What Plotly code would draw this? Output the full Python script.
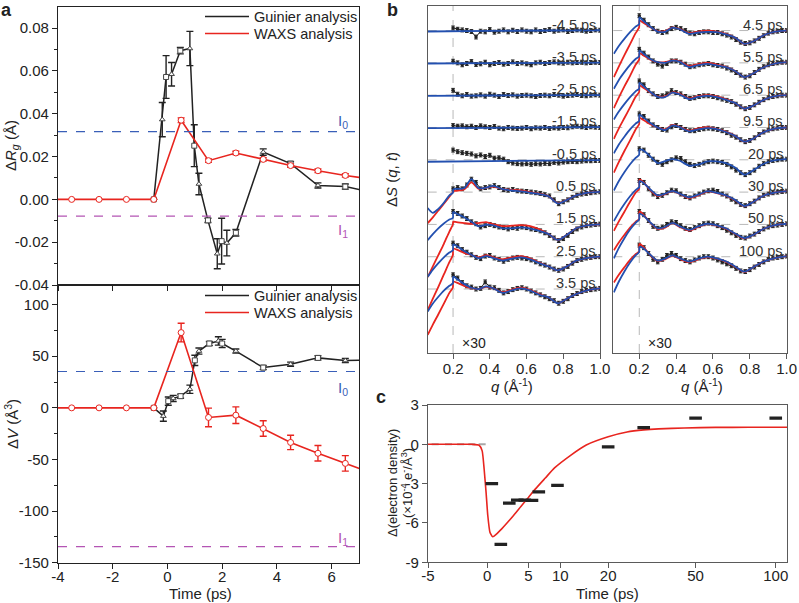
import numpy as np
import plotly.graph_objects as go

W, H = 799, 603
FONT = 'Liberation Sans, Arial, sans-serif'
INK = '#222222'
FRAME_B = '#5a5a5a'
RED = '#e8251f'
BLUE = '#2350b0'
GRID_GRAY = '#b8b8b8'

# ------------------------------------------------------------------
# Panel a : Guinier vs WAXS analysis
# ------------------------------------------------------------------
waxs_t = [-4.5, -3.5, -2.5, -1.5, -0.5, 0.5, 1.5, 2.5, 3.5, 4.5, 5.5, 6.5, 9.5]
waxs_rg = [0, 0, 0, 0, 0, 0.037, 0.0181, 0.0217, 0.0187, 0.0158, 0.0134, 0.0112, 0.0058]
waxs_rg_err = [0, 0, 0, 0, 0, 0.0011, 0.0008, 0.0008, 0.0008, 0.0008, 0.0008, 0.0008, 0.0008]
waxs_dv = [0, 0, 0, 0, 0, 72.9, -9.3, -7.1, -20.0, -33.5, -44.0, -53.8, -83.0]
waxs_dv_err = [0, 0, 0, 0, 0, 9.0, 9.0, 8.0, 7.5, 7.0, 7.5, 7.5, 7.5]

guin_rg_t = [-0.5, -0.19, -0.05, 0.15, 0.47, 0.82, 0.98, 1.15, 1.48, 1.82, 1.98, 2.17, 2.5, 3.5, 4.5, 5.5, 6.5, 9.5]
guin_rg = [0, 0.0373, 0.0572, 0.0585, 0.0695, 0.0705, 0.0251, 0.0072, -0.0098, -0.0254, -0.0195,
           -0.0204, -0.0156, 0.0221, 0.0167, 0.0065, 0.006, -0.002]
guin_rg_err = [0, 0.008, 0.010, 0.0055, 0.0015, 0.008, 0.0098, 0.005, 0.001, 0.007, 0.0107,
               0.006, 0.0015, 0.0015, 0.001, 0.0012, 0.0012, 0.001]

guin_dv_t = [-0.5, -0.15, 0.03, 0.21, 0.48, 0.82, 1.0, 1.15, 1.53, 1.86, 2.0, 2.5, 3.5, 4.5, 5.5, 6.5, 9.5]
guin_dv = [0, -8.0, 6.5, 9.1, 11.3, 18.0, 46.0, 55.0, 62.3, 64.8, 62.3, 55.0, 39.0, 42.3, 48.4, 45.8, 47.0]
guin_dv_err = [0, 5, 4, 3, 2, 4, 5, 3, 2, 4, 4, 2, 2, 2, 2, 2, 2]

level_rg = {'I0': 0.0317, 'I1': -0.0078}
level_dv = {'I0': 35.2, 'I1': -134.4}

rg_ticks = [-0.04, -0.02, 0.00, 0.02, 0.04, 0.06, 0.08]
rg_ticktext = ['-0.04', '-0.02', '0.00', '0.02', '0.04', '0.06', '0.08']
dv_ticks = [-150, -100, -50, 0, 50, 100]
dv_ticktext = ['-150', '-100', '-50', '0', '50', '100']
time_ticks = [-4, -2, 0, 2, 4, 6]
time_ticktext = ['-4', '-2', '0', '2', '4', '6']

# ------------------------------------------------------------------
# Panel b : difference curves (offset stacks)
# ------------------------------------------------------------------
QN = [0.062, 0.4, 1.0]
QB = [0.062, 0.09, 0.12, 0.15, 0.18, 0.199, 0.201, 0.22, 0.26, 0.30, 0.34, 0.38, 0.42, 0.47,
      0.52, 0.57, 0.62, 0.67, 0.72, 0.77, 0.82, 0.87, 0.93, 1.0]
QD = [0.200, 0.225, 0.250, 0.275, 0.300, 0.325, 0.350, 0.375, 0.400, 0.425, 0.450, 0.475, 0.500,
      0.525, 0.550, 0.575, 0.600, 0.625, 0.650, 0.675, 0.700, 0.725, 0.750, 0.775, 0.800, 0.825,
      0.850, 0.875, 0.900, 0.925, 0.950, 0.975, 1.000]

# blue fits
bm45 = [-0.03, -0.01, 0.01]
bm35 = [-0.02, -0.01, 0.01]
bm25 = [-0.02, -0.01, 0.0]
bm15 = [-0.02, -0.01, 0.01]
bm05 = [-0.06, -0.04, -0.01]
b05 = [-0.49, -0.64, -0.52, -0.33, -0.10, -0.02, 0.08, 0.10, 0.12, 0.40, 0.12, 0.14, 0.19, 0.09, 0.05, 0.02, -0.02, -0.06, -0.13, -0.35, -0.24, -0.10, -0.02, 0.01]
b15 = [-0.49, -0.30, -0.12, 0.03, 0.15, 0.20, 0.38, 0.33, 0.22, 0.08, -0.06, -0.01, -0.03, -0.12, -0.12, -0.09, -0.13, -0.20, -0.30, -0.48, -0.32, -0.12, -0.03, 0.0]
b25 = [-0.62, -0.40, -0.20, -0.02, 0.13, 0.20, 0.38, 0.33, 0.18, 0.06, -0.05, 0.02, -0.04, -0.12, -0.06, -0.02, -0.08, -0.20, -0.30, -0.42, -0.30, -0.12, -0.04, 0.0]
b35 = [-0.70, -0.45, -0.24, -0.05, 0.10, 0.18, 0.38, 0.32, 0.16, 0.04, 0.0, 0.08, 0.02, -0.12, -0.04, 0.02, -0.05, -0.18, -0.26, -0.44, -0.30, -0.16, -0.04, 0.02]
b45 = [-0.72, -0.47, -0.25, -0.05, 0.12, 0.20, 0.41, 0.31, 0.12, -0.03, -0.04, 0.09, 0.04, -0.10, -0.06, -0.04, -0.05, -0.12, -0.22, -0.41, -0.33, -0.16, -0.04, 0.0]
b55 = [-0.80, -0.52, -0.28, -0.06, 0.12, 0.20, 0.38, 0.30, 0.12, 0.02, 0.0, 0.07, 0.03, -0.13, -0.07, -0.03, -0.08, -0.13, -0.25, -0.44, -0.32, -0.15, -0.03, 0.02]
b65 = [-0.75, -0.50, -0.27, -0.06, 0.12, 0.20, 0.38, 0.30, 0.10, -0.05, -0.06, 0.08, 0.02, -0.12, -0.05, -0.02, -0.06, -0.14, -0.24, -0.42, -0.32, -0.16, -0.04, 0.0]
b95 = [-0.80, -0.52, -0.28, -0.06, 0.12, 0.20, 0.40, 0.32, 0.14, 0.0, -0.08, 0.06, 0.01, -0.12, -0.06, -0.02, -0.05, -0.14, -0.26, -0.44, -0.34, -0.16, -0.04, 0.0]
b20 = [-0.95, -0.65, -0.38, -0.14, 0.06, 0.15, 0.31, 0.30, 0.10, -0.10, -0.04, 0.02, -0.03, -0.18, -0.15, -0.05, -0.05, -0.10, -0.24, -0.46, -0.32, -0.14, -0.02, 0.02]
b30 = [-0.90, -0.62, -0.36, -0.13, 0.06, 0.15, 0.34, 0.30, 0.08, -0.10, -0.05, 0.04, -0.05, -0.16, -0.08, 0.03, -0.02, -0.10, -0.24, -0.43, -0.30, -0.12, -0.02, 0.03]
b50 = [-1.05, -0.72, -0.42, -0.16, 0.05, 0.15, 0.32, 0.28, 0.06, -0.12, -0.08, 0.05, -0.06, -0.17, -0.06, 0.02, -0.03, -0.12, -0.28, -0.42, -0.32, -0.15, -0.03, 0.02]
b100 = [-1.10, -0.76, -0.45, -0.18, 0.04, 0.14, 0.30, 0.27, 0.06, -0.12, -0.06, 0.04, -0.05, -0.15, -0.06, 0.0, -0.05, -0.14, -0.30, -0.46, -0.32, -0.16, -0.05, 0.02]

# red fits
r05 = [-0.96, -0.78, -0.57, -0.36, -0.14, 0.0, 0.03, 0.04, 0.08, 0.30, 0.10, 0.14, 0.17, 0.09, 0.07, 0.05, 0.0, -0.05, -0.13, -0.34, -0.24, -0.10, -0.02, 0.01]
r15 = [-1.63, -1.30, -0.95, -0.60, -0.22, 0.0, 0.08, 0.07, 0.04, 0.02, 0.04, 0.07, 0.0, -0.05, -0.04, -0.02, -0.05, -0.15, -0.30, -0.48, -0.32, -0.12, -0.03, 0.0]
r25 = [-1.65, -1.30, -0.93, -0.55, -0.17, 0.05, 0.25, 0.22, 0.12, 0.05, -0.02, 0.05, -0.02, -0.08, -0.02, 0.02, -0.05, -0.18, -0.30, -0.42, -0.30, -0.12, -0.04, 0.0]
r35 = [-1.42, -1.10, -0.78, -0.45, -0.12, 0.05, 0.23, 0.20, 0.10, 0.03, 0.0, 0.07, 0.02, -0.10, -0.02, 0.04, -0.03, -0.16, -0.26, -0.44, -0.30, -0.16, -0.04, 0.02]
r45 = [-1.44, -1.10, -0.75, -0.42, -0.08, 0.10, 0.31, 0.25, 0.10, -0.02, -0.02, 0.10, 0.05, -0.08, -0.03, 0.0, -0.03, -0.10, -0.22, -0.41, -0.33, -0.16, -0.04, 0.0]
r55 = [-1.40, -1.06, -0.72, -0.40, -0.06, 0.10, 0.30, 0.24, 0.10, 0.02, 0.02, 0.08, 0.05, -0.10, -0.04, 0.0, -0.05, -0.12, -0.25, -0.44, -0.32, -0.15, -0.03, 0.02]
r65 = [-1.35, -1.02, -0.70, -0.38, -0.05, 0.10, 0.30, 0.24, 0.08, -0.04, -0.04, 0.09, 0.04, -0.10, -0.03, 0.0, -0.04, -0.12, -0.24, -0.42, -0.32, -0.16, -0.04, 0.0]
r95 = [-1.40, -1.06, -0.72, -0.40, -0.06, 0.10, 0.30, 0.24, 0.10, 0.0, -0.06, 0.08, 0.02, -0.10, -0.03, 0.01, -0.04, -0.13, -0.26, -0.44, -0.34, -0.16, -0.04, 0.0]
r30 = [-1.20, -0.90, -0.60, -0.30, -0.02, 0.10, 0.39, 0.32, 0.06, -0.12, -0.06, 0.03, -0.06, -0.18, -0.10, 0.02, -0.03, -0.11, -0.25, -0.44, -0.30, -0.12, -0.02, 0.03]
r50 = [-0.80, -0.55, -0.32, -0.10, 0.08, 0.16, 0.40, 0.32, 0.05, -0.14, -0.10, 0.04, -0.08, -0.19, -0.08, 0.01, -0.04, -0.13, -0.29, -0.43, -0.32, -0.15, -0.03, 0.02]
r100 = [-0.80, -0.55, -0.32, -0.10, 0.08, 0.16, 0.40, 0.32, 0.05, -0.13, -0.08, 0.03, -0.07, -0.17, -0.08, -0.01, -0.06, -0.15, -0.31, -0.47, -0.32, -0.16, -0.05, 0.02]

# measured difference data (q >= 0.2)
dm45 = [0.08, 0.04, 0.02, 0.0, -0.03, -0.20, -0.02, -0.04, 0.03, -0.05, -0.02, 0.02, -0.04, 0.01, -0.03, 0.02, -0.02, -0.04, 0.02, -0.03, 0.0, 0.03, -0.02, 0.01, 0.02, -0.03, 0.0, 0.02, 0.01, -0.02, 0.0, 0.02, 0.01]
dm35 = [0.05, 0.0, -0.06, -0.02, 0.04, -0.05, -0.03, 0.02, -0.06, -0.02, 0.01, -0.04, -0.02, 0.03, -0.02, 0.0, -0.03, -0.06, 0.0, 0.02, -0.02, 0.01, 0.03, 0.0, -0.01, 0.02, 0.0, 0.01, 0.02, 0.0, 0.01, 0.02, 0.01]
dm25 = [0.15, 0.03, -0.02, 0.02, -0.03, -0.02, 0.01, -0.03, 0.03, 0.0, -0.04, 0.02, -0.01, 0.01, -0.03, -0.01, 0.0, -0.02, -0.04, -0.01, 0.0, -0.02, 0.02, 0.0, -0.03, -0.01, 0.0, 0.02, -0.01, -0.02, 0.0, 0.01, 0.0]
dm15 = [0.06, 0.04, 0.05, 0.02, 0.04, 0.0, 0.05, 0.02, 0.0, 0.03, -0.02, -0.04, 0.0, -0.02, -0.03, -0.02, 0.0, -0.04, -0.01, -0.02, 0.0, -0.03, -0.01, -0.02, 0.0, -0.01, 0.02, 0.04, 0.02, 0.0, 0.02, 0.01, 0.0]
dm05 = [0.30, 0.25, 0.22, 0.20, 0.18, 0.12, 0.15, 0.10, 0.14, 0.05, 0.06, 0.02, -0.06, -0.10, -0.12, -0.13, -0.12, -0.14, -0.12, -0.13, -0.11, -0.12, -0.08, -0.10, -0.07, -0.06, -0.05, -0.06, -0.04, -0.03, -0.03, -0.02, -0.02]
d05 = [0.10, 0.14, 0.10, 0.22, 0.40, 0.30, 0.10, 0.14, 0.16, 0.20, 0.14, 0.08, 0.06, 0.08, 0.04, 0.03, 0.02, 0.0, -0.02, -0.04, -0.08, -0.12, -0.24, -0.36, -0.30, -0.24, -0.16, -0.10, -0.06, -0.04, -0.02, 0.0, 0.01]
d15 = [0.40, 0.34, 0.26, 0.18, 0.08, 0.02, -0.08, -0.04, 0.0, -0.04, -0.08, -0.10, -0.14, -0.10, -0.12, -0.08, -0.10, -0.14, -0.16, -0.20, -0.26, -0.34, -0.42, -0.50, -0.44, -0.34, -0.22, -0.14, -0.08, -0.04, -0.02, 0.0, 0.01]
d25 = [0.42, 0.34, 0.22, 0.14, 0.06, -0.02, -0.06, 0.02, 0.04, -0.04, -0.08, -0.14, -0.08, -0.04, -0.02, -0.04, -0.06, -0.10, -0.16, -0.22, -0.26, -0.32, -0.38, -0.42, -0.38, -0.30, -0.20, -0.12, -0.08, -0.04, -0.02, 0.0, 0.0]
d35 = [0.44, 0.34, 0.20, 0.10, 0.06, 0.0, 0.02, 0.22, 0.06, 0.04, -0.04, -0.12, -0.08, -0.02, 0.02, 0.04, 0.0, -0.06, -0.12, -0.18, -0.24, -0.30, -0.36, -0.44, -0.38, -0.30, -0.20, -0.14, -0.08, -0.04, -0.02, 0.0, 0.02]
d45 = [0.46, 0.32, 0.18, 0.06, -0.02, -0.06, -0.04, 0.06, 0.10, 0.06, 0.0, -0.08, -0.10, -0.06, -0.04, -0.04, -0.06, -0.06, -0.10, -0.14, -0.20, -0.28, -0.36, -0.40, -0.38, -0.32, -0.24, -0.16, -0.08, -0.04, -0.02, 0.0, 0.0]
d55 = [0.42, 0.30, 0.18, 0.06, -0.04, -0.10, -0.02, 0.06, 0.06, 0.02, -0.04, -0.12, -0.10, -0.06, -0.04, -0.02, -0.06, -0.08, -0.10, -0.16, -0.22, -0.30, -0.38, -0.44, -0.40, -0.30, -0.20, -0.12, -0.06, -0.02, 0.0, 0.02, 0.02]
d65 = [0.44, 0.32, 0.14, 0.04, -0.04, -0.02, 0.04, 0.14, 0.08, 0.04, -0.04, -0.10, -0.08, -0.04, -0.02, -0.02, -0.04, -0.08, -0.12, -0.16, -0.20, -0.28, -0.36, -0.42, -0.38, -0.30, -0.22, -0.14, -0.08, -0.04, -0.02, 0.0, 0.0]
d95 = [0.42, 0.34, 0.20, 0.08, 0.0, -0.06, -0.08, 0.02, 0.06, 0.0, -0.06, -0.10, -0.10, -0.06, -0.04, -0.02, -0.04, -0.06, -0.10, -0.16, -0.24, -0.30, -0.38, -0.44, -0.40, -0.32, -0.22, -0.14, -0.08, -0.04, -0.02, 0.0, 0.0]
d20 = [0.34, 0.30, 0.14, 0.02, -0.08, -0.14, -0.06, 0.0, 0.06, 0.04, -0.06, -0.14, -0.18, -0.14, -0.10, -0.06, -0.04, -0.06, -0.08, -0.14, -0.22, -0.32, -0.40, -0.46, -0.40, -0.32, -0.20, -0.12, -0.06, -0.02, 0.0, 0.02, 0.02]
d30 = [0.36, 0.30, 0.10, -0.06, -0.14, -0.10, -0.02, 0.06, 0.04, -0.06, -0.14, -0.18, -0.12, -0.06, 0.0, 0.04, 0.06, 0.02, -0.06, -0.12, -0.22, -0.30, -0.38, -0.42, -0.36, -0.28, -0.18, -0.10, -0.06, -0.02, 0.0, 0.02, 0.03]
d50 = [0.40, 0.30, 0.12, -0.06, -0.12, -0.08, 0.0, 0.08, 0.06, -0.04, -0.12, -0.16, -0.10, -0.04, 0.02, 0.04, 0.02, -0.04, -0.10, -0.18, -0.26, -0.34, -0.40, -0.42, -0.36, -0.30, -0.22, -0.14, -0.08, -0.04, -0.02, 0.0, 0.02]
d100 = [0.36, 0.28, 0.10, -0.08, -0.16, -0.08, 0.04, 0.10, 0.04, -0.06, -0.12, -0.16, -0.10, -0.04, 0.0, 0.0, -0.04, -0.10, -0.16, -0.22, -0.28, -0.36, -0.44, -0.46, -0.40, -0.32, -0.24, -0.16, -0.08, -0.04, -0.02, 0.0, 0.02]

left_labels = ['-4.5 ps', '-3.5 ps', '-2.5 ps', '-1.5 ps', '-0.5 ps', '0.5 ps', '1.5 ps', '2.5 ps', '3.5 ps']
left_data = [dm45, dm35, dm25, dm15, dm05, d05, d15, d25, d35]
left_blue = [bm45, bm35, bm25, bm15, bm05, b05, b15, b25, b35]
left_red = [None, None, None, None, None, r05, r15, r25, r35]
left_offset = [8, 7, 6, 5, 4, 3, 2, 1, 0]

right_labels = ['4.5 ps', '5.5 ps', '6.5 ps', '9.5 ps', '20 ps', '30 ps', '50 ps', '100 ps']
right_data = [d45, d55, d65, d95, d20, d30, d50, d100]
right_blue = [b45, b55, b65, b95, b20, b30, b50, b100]
right_red = [r45, r55, r65, r95, None, r30, r50, r100]
right_offset = [8, 7, 6, 5, 4, 3, 2, 1]

q_ticks = [0.2, 0.4, 0.6, 0.8, 1.0]
q_ticktext = ['0.2', '0.4', '0.6', '0.8', '1.0']

# ------------------------------------------------------------------
# Panel c : electron density change
# ------------------------------------------------------------------
c_t = [0.5, 1.5, 2.5, 3.5, 4.5, 5.5, 6.5, 9.5, 20, 30, 50, 100]
c_val = [-3.0, -7.63, -4.48, -4.25, -4.25, -4.27, -3.62, -3.13, -0.2, 1.27, 2.0, 2.0]
c_pre_t = [-4.5, -3.5, -2.5, -1.5, -0.5]
c_pre_val = [0, 0, 0, 0, 0]
c_fit_t = [-5.0, -1.5, -0.8, -0.5, -0.3, -0.1, 0.07, 0.3, 0.6, 1.0, 1.6, 2.3, 3.0, 4.0, 5.0, 6.0,
           7.5, 9.0, 12.0, 15.0, 20.0, 25.0, 30.0, 35.0, 45.0, 60.0, 80.0, 110.0]
c_fit_val = [0.0, 0.0, -0.07, -0.5, -1.9, -3.7, -5.4, -6.7, -7.05, -6.85, -6.45, -5.95, -5.45,
             -4.72, -4.05, -3.4, -2.57, -1.8, -0.8, -0.05, 0.58, 0.94, 1.1, 1.18, 1.25, 1.29, 1.3, 1.3]
c_tick_t = [-5, 0, 5, 10, 20, 50, 100]
c_y_ticks = [-9, -6, -3, 0, 3]
c_y_ticktext = ['-9', '-6', '-3', '0', '3']
T_SHIFT = 14.5   # time axis is drawn on log(t + 14.5)


def tscale(t):
    return np.log(np.asarray(t, dtype=float) + T_SHIFT)


def px(x):
    return x / W


def py(y):
    return 1 - y / H


fig = go.Figure()


def errbar(arr, color, width=3.5):
    return dict(type='data', array=arr, color=color, thickness=1.4, width=width)


# ---- panel a traces
guin_sym_rg = ['square' if i % 2 == 0 else 'triangle-up' for i in range(len(guin_rg_t))]
guin_sym_dv = ['square' if i % 2 == 0 else 'triangle-up' for i in range(len(guin_dv_t))]

for ax_y, t, v, e, sym in [('y', guin_rg_t, guin_rg, guin_rg_err, guin_sym_rg),
                           ('y2', guin_dv_t, guin_dv, guin_dv_err, guin_sym_dv)]:
    fig.add_trace(go.Scatter(
        x=t, y=v, error_y=errbar(e, INK), mode='lines+markers',
        line=dict(color=INK, width=1.5),
        marker=dict(symbol=sym, size=5, color='white', line=dict(color='#444', width=1)),
        xaxis='x' if ax_y == 'y' else 'x2', yaxis=ax_y, showlegend=False))

for ax_y, v, e in [('y', waxs_rg, waxs_rg_err), ('y2', waxs_dv, waxs_dv_err)]:
    fig.add_trace(go.Scatter(
        x=waxs_t, y=v, error_y=errbar(e, RED), mode='lines+markers',
        line=dict(color=RED, width=1.6),
        marker=dict(symbol='circle', size=6, color='white', line=dict(color=RED, width=1)),
        xaxis='x' if ax_y == 'y' else 'x2', yaxis=ax_y, showlegend=False))

# ---- panel b traces
def add_stack(labels, data, blues, reds, offsets, xa, ya):
    for lab, d, b, r, off in zip(labels, data, blues, reds, offsets):
        fig.add_trace(go.Scatter(
            x=QD, y=[v + off for v in d], mode='lines+markers',
            line=dict(color=INK, width=1),
            marker=dict(size=3.5, color=INK),
            error_y=dict(type='constant', value=0.06, color=INK, thickness=1, width=1.8),
            xaxis=xa, yaxis=ya, showlegend=False))
        if r is not None:
            fig.add_trace(go.Scatter(
                x=QB, y=[v + off for v in r], mode='lines',
                line=dict(color=RED, width=1.8, shape='spline', smoothing=0.8),
                xaxis=xa, yaxis=ya, showlegend=False))
        qb = QN if len(b) == len(QN) else QB
        fig.add_trace(go.Scatter(
            x=qb, y=[v + off for v in b], mode='lines',
            line=dict(color=BLUE, width=1.8, shape='spline', smoothing=0.8),
            xaxis=xa, yaxis=ya, showlegend=False))


add_stack(left_labels, left_data, left_blue, left_red, left_offset, 'x3', 'y3')
add_stack(right_labels, right_data, right_blue, right_red, right_offset, 'x4', 'y4')

# ---- panel c traces
fig.add_trace(go.Scatter(
    x=tscale(c_pre_t), y=c_pre_val, mode='markers',
    marker=dict(symbol='line-ew', size=5, line=dict(color='#a8a8a8', width=2)),
    xaxis='x5', yaxis='y5', showlegend=False))
fig.add_trace(go.Scatter(
    x=tscale(c_fit_t), y=c_fit_val, mode='lines',
    line=dict(color=RED, width=1.6, shape='spline', smoothing=0.5),
    xaxis='x5', yaxis='y5', showlegend=False))
fig.add_trace(go.Scatter(
    x=tscale(c_t), y=c_val, mode='markers',
    marker=dict(symbol='line-ew', size=9, line=dict(color='#222', width=3.2)),
    xaxis='x5', yaxis='y5', showlegend=False))

# ------------------------------------------------------------------
# Axes
# ------------------------------------------------------------------
def axis(domain, rng, anchor, color=INK, **kw):
    d = dict(domain=domain, range=rng, anchor=anchor, showgrid=False, zeroline=False,
             showline=True, mirror=True, linecolor=color, linewidth=1.3,
             ticks='outside', ticklen=5, tickwidth=1.2, tickcolor=color,
             tickfont=dict(size=15, color=INK, family=FONT), automargin=False)
    d.update(kw)
    return d


xa_dom = [px(58), px(359)]
top_dom = [py(285), py(7)]
bot_dom = [py(562.7), py(285)]
b_ydom = [py(353), py(6)]
c_xdom = [px(428), px(787)]
c_ydom = [py(562.3), py(405)]

layout_axes = dict(
    xaxis=axis(xa_dom, [-4, 7], 'y', tickvals=time_ticks, showticklabels=False),
    yaxis=axis(top_dom, [-0.04, 0.0899], 'x', tickvals=rg_ticks, ticktext=rg_ticktext,
               minor=dict(dtick=0.01, tick0=0, ticklen=3, ticks='outside', tickcolor=INK)),
    xaxis2=axis(xa_dom, [-4, 7], 'y2', tickvals=time_ticks, ticktext=time_ticktext,
                ticklabelstandoff=-5),
    yaxis2=axis(bot_dom, [-150, 119], 'x2', tickvals=dv_ticks, ticktext=dv_ticktext,
                minor=dict(dtick=25, tick0=0, ticklen=3, ticks='outside', tickcolor=INK)),
    xaxis3=axis([px(427.7), px(600)], [0.062, 1.0], 'y3', color=FRAME_B,
                tickvals=q_ticks, ticktext=q_ticktext, ticklabelstandoff=-3),
    yaxis3=axis(b_ydom, [-1.98, 8.76], 'x3', color=FRAME_B, ticks='', showticklabels=False),
    xaxis4=axis([px(613.3), px(786.7)], [0.059, 1.0], 'y4', color=FRAME_B,
                tickvals=q_ticks, ticktext=q_ticktext, ticklabelstandoff=-3),
    yaxis4=axis(b_ydom, [-1.98, 8.76], 'x4', color=FRAME_B, ticks='', showticklabels=False),
    xaxis5=axis(c_xdom, [float(tscale(-5)), float(tscale(109.6))], 'y5', color=FRAME_B,
                tickvals=list(tscale(c_tick_t)), ticktext=[str(t) for t in c_tick_t],
                ticklabelstandoff=-5),
    yaxis5=axis(c_ydom, [-9, 3], 'x5', color=FRAME_B, tickvals=c_y_ticks, ticktext=c_y_ticktext),
)

# ------------------------------------------------------------------
# Shapes: reference levels and guides
# ------------------------------------------------------------------
shapes = []
LV_COL = {'I0': '#3a5fb8', 'I1': '#b455b4'}
for name, lv in level_rg.items():
    shapes.append(dict(type='line', xref='x domain', yref='y', x0=0, x1=1, y0=lv, y1=lv,
                       line=dict(color=LV_COL[name], width=1.2, dash='dash')))
for name, lv in level_dv.items():
    shapes.append(dict(type='line', xref='x2 domain', yref='y2', x0=0, x1=1, y0=lv, y1=lv,
                       line=dict(color=LV_COL[name], width=1.2, dash='dash')))

for xa, ya, offs in [('x3', 'y3', left_offset), ('x4', 'y4', right_offset)]:
    for off in offs:
        shapes.append(dict(type='line', xref=xa + ' domain', yref=ya, x0=0, x1=1, y0=off, y1=off,
                           line=dict(color=GRID_GRAY, width=1, dash='dash'), layer='below'))
    shapes.append(dict(type='line', xref=xa, yref=ya + ' domain', x0=0.2, x1=0.2, y0=0, y1=1,
                       line=dict(color=GRID_GRAY, width=1, dash='dash'), layer='below'))

# manual legends for panel a
for ytop in (16.5, 295.5):
    shapes.append(dict(type='line', xref='paper', yref='paper', x0=px(205), x1=px(249),
                       y0=py(ytop), y1=py(ytop), line=dict(color=INK, width=1.6)))
    shapes.append(dict(type='line', xref='paper', yref='paper', x0=px(205), x1=px(249),
                       y0=py(ytop + 17), y1=py(ytop + 17), line=dict(color=RED, width=1.6)))

# ------------------------------------------------------------------
# Annotations
# ------------------------------------------------------------------
ann = []


def text(x, y, s, size=15, color=INK, xanchor='center', yanchor='middle', angle=0, **kw):
    d = dict(x=px(x), y=py(y), xref='paper', yref='paper', text=s, showarrow=False,
             font=dict(size=size, color=color, family=FONT), xanchor=xanchor, yanchor=yanchor,
             textangle=angle)
    d.update(kw)
    ann.append(d)


text(6, 10, '<b>a</b>', size=18)
text(392, 10, '<b>b</b>', size=18)
text(381, 397, '<b>c</b>', size=18)

for ytop in (16.5, 295.5):
    text(252, ytop, 'Guinier analysis', size=14.5, xanchor='left')
    text(252, ytop + 17, 'WAXS analysis', size=14.5, xanchor='left')

text(11, 146, 'Δ<i>R</i><sub><i>g</i></sub> (Å)', angle=-90)
text(11, 424, 'Δ<i>V</i> (Å<sup>3</sup>)', angle=-90)
text(200, 593, 'Time (ps)')

text(343, 122, 'I<sub>0</sub>', color=LV_COL['I0'])
text(343, 231, 'I<sub>1</sub>', color=LV_COL['I1'])
text(343, 388, 'I<sub>0</sub>', color=LV_COL['I0'])
text(343, 538, 'I<sub>1</sub>', color=LV_COL['I1'])

text(392, 180, 'Δ<i>S</i> (<i>q</i>, <i>t</i>)', angle=-90)
text(512, 385, '<i>q</i> (Å<sup>-1</sup>)')
text(702, 385, '<i>q</i> (Å<sup>-1</sup>)')
text(474, 343, '×30', size=14)
text(660, 343, '×30', size=14)

for labels, offs, xa, ya in [(left_labels, left_offset, 'x3', 'y3'),
                             (right_labels, right_offset, 'x4', 'y4')]:
    for lab, off in zip(labels, offs):
        ann.append(dict(x=0.99, y=off, xref=xa + ' domain', yref=ya, text=lab, showarrow=False,
                        font=dict(size=14.5, color='#333', family=FONT),
                        xanchor='right', yanchor='bottom', yshift=-4))

text(392, 483, 'Δ(electron density)', size=13, angle=-90)
text(407, 483, '(×10<sup>-4</sup> e<sup>-</sup>/Å<sup>3</sup>)', size=13, angle=-90)
text(607, 593, 'Time (ps)')

fig.update_layout(
    width=W, height=H, margin=dict(l=0, r=0, t=0, b=0, autoexpand=False),
    paper_bgcolor='white', plot_bgcolor='white',
    font=dict(family=FONT, color=INK, size=15),
    shapes=shapes, annotations=ann, showlegend=False,
    **layout_axes)

# the page body has a default 8px margin; drop it so the figure fills the window
fig.write_html('out.html', config={'displayModeBar': False},
               post_script="document.body.style.margin='0px';")
